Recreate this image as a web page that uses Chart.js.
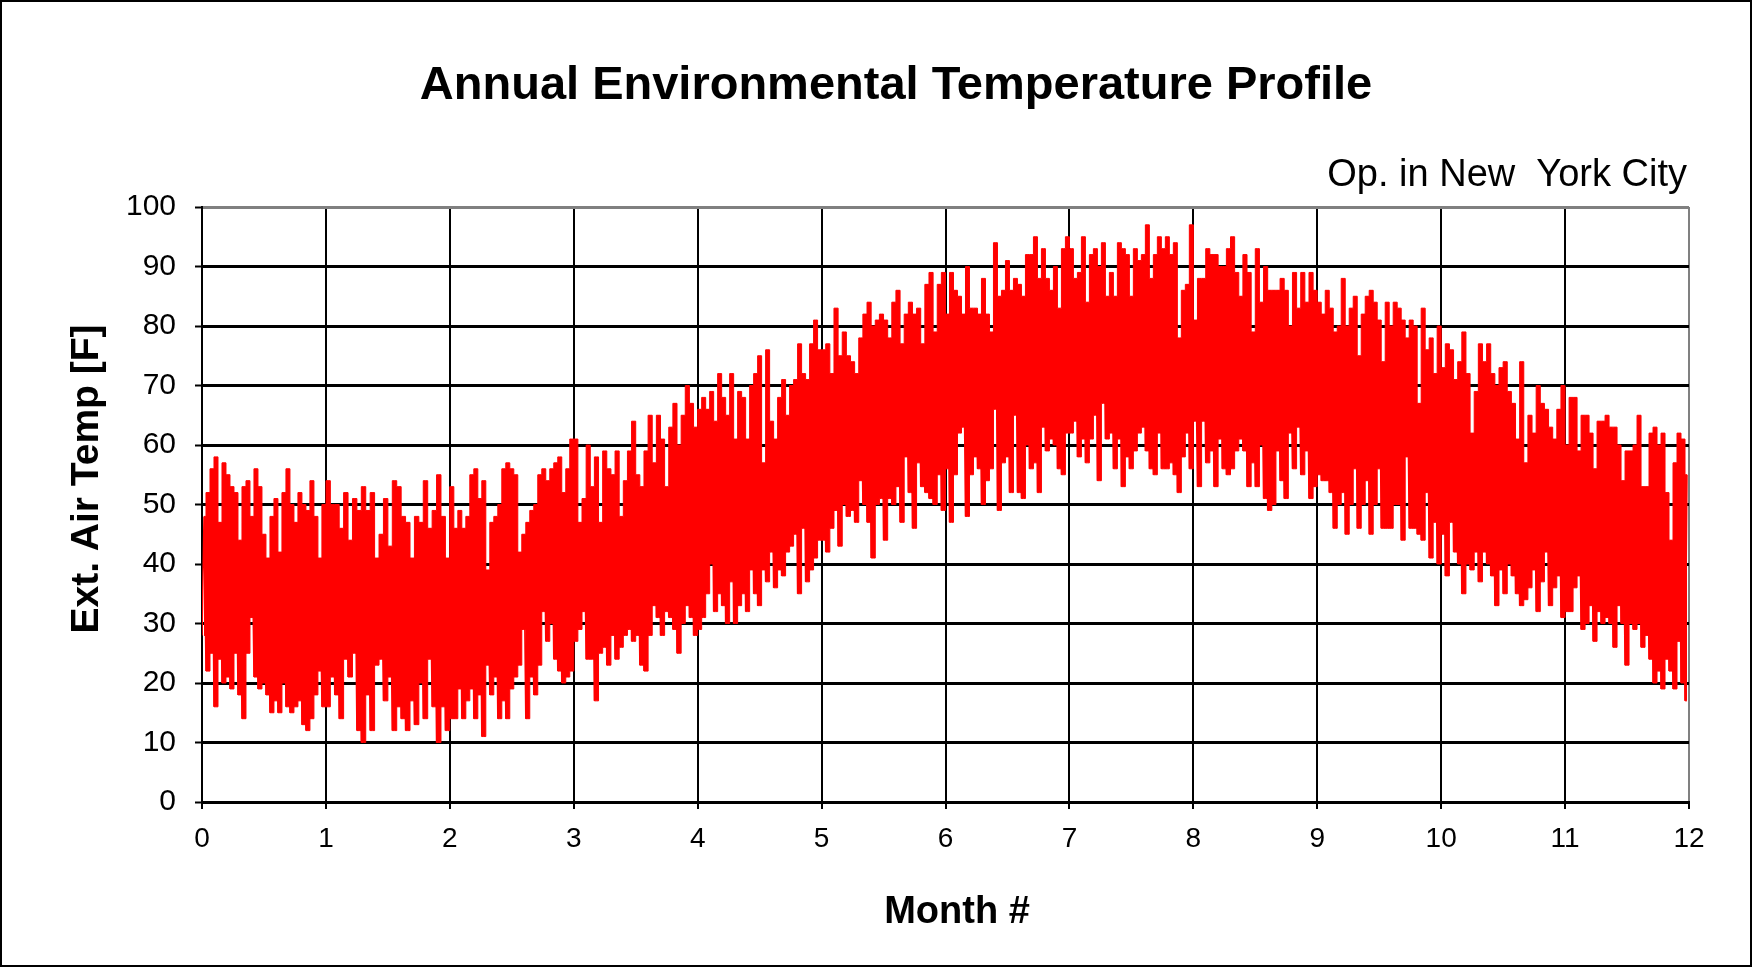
<!DOCTYPE html>
<html>
<head>
<meta charset="utf-8">
<script src="https://cdn.jsdelivr.net/npm/chart.js@4.4.1/dist/chart.umd.min.js"></script>
<style>
  html, body { margin: 0; padding: 0; background: #fff; }
  canvas { display: block; }
</style>
</head>
<body>
<canvas id="tempChart" width="1752" height="967"></canvas>
<script>
const monthTicks = [0, 1, 2, 3, 4, 5, 6, 7, 8, 9, 10, 11, 12];
const tempTicks = [0, 10, 20, 30, 40, 50, 60, 70, 80, 90, 100];

// daily highs / lows in F, one row per month
const dailyHigh = [
    [48,52,56,58,47,57,55,53,52,44,53,54,48,56,53,45,41,48,51,42,52,56,50,47,52,50,49,54,48,41,50],
    [54,50,50,46,52,44,51,49,53,49,52,41,45,51,43,54,53,48,47,41,48,47,54,46,49,55,48,41],
    [53,46,49,46,48,55,56,51,54,39,47,48,50,56,57,56,55,42,45,47,49,50,55,56,54,56,57,58,52,56,61],
    [61,47,51,60,53,58,47,59,56,55,59,48,54,59,64,55,53,59,65,57,65,61,53,63,67,60,65,70,67,63],
    [66,68,66,69,64,72,68,65,72,61,69,68,61,70,72,75,57,76,64,61,68,71,65,70,71,77,72,71,77,81,76],
    [76,77,72,83,75,79,75,74,72,78,82,84,80,81,82,81,78,84,86,77,82,84,82,83,77,87,89,79,87,89],
    [82,89,86,85,82,90,83,83,82,88,82,79,94,85,86,91,86,88,87,85,92,92,95,88,93,88,86,90,83,93,95],
    [93,88,89,95,84,92,93,90,94,85,89,85,94,93,92,85,93,91,92,97,88,92,95,93,95,92,94,78,86,87,97],
    [81,88,88,93,92,92,90,90,93,95,89,85,92,89,79,93,84,90,86,86,86,88,86,80,89,83,89,84,89,86],
    [84,82,86,83,79,80,88,80,83,85,75,82,85,86,84,81,74,84,80,84,83,81,78,81,80,67,83,76,78,72,80],
    [73,77,76,71,74,79,72,62,69,77,74,77,72,70,73,74,69,67,61,74,57,65,62,70,67,66,63,61,66,70],
    [60,68,68,59,65,65,62,56,64,64,65,63,63,60,54,59,59,60,65,53,53,62,63,60,62,52,44,57,62,61,55]
];

const dailyLow = [
    [28,22,25,16,24,20,21,19,25,18,14,25,31,21,19,20,18,15,17,15,20,16,15,16,17,13,12,14,18,22,16],
    [16,21,18,14,24,21,25,12,10,18,12,23,24,17,21,12,16,14,12,17,13,20,14,24,16,10,16,12],
    [14,14,19,14,17,19,14,18,11,23,18,21,14,17,14,19,21,23,29,14,21,18,23,32,27,30,24,22,20,21,22],
    [27,29,32,24,24,17,25,26,23,28,24,26,28,29,27,28,23,22,28,33,31,28,32,31,29,25,30,33,31,28],
    [29,31,35,40,32,35,33,30,37,30,33,35,32,39,35,33,39,37,42,36,39,38,42,43,45,35,46,37,39,41,44],
    [44,42,46,49,43,50,48,49,47,54,50,47,41,50,51,44,51,50,53,47,58,52,46,57,53,52,51,50,55,49],
    [56,47,55,62,63,48,55,58,56,50,54,56,66,49,57,58,52,65,52,51,60,56,57,52,63,59,61,60,56,55,62],
    [62,64,58,61,57,61,65,54,67,61,62,56,61,53,58,56,59,62,63,59,56,55,62,56,56,57,55,52,58,62,56],
    [64,53,64,57,59,53,61,56,55,56,59,61,59,53,57,53,60,51,49,50,59,54,51,62,56,63,55,59,51,53],
    [55,54,54,52,46,50,52,45,50,56,46,50,54,45,50,56,46,46,46,50,50,44,58,46,46,45,44,52,41,47,40],
    [45,38,47,42,40,35,40,39,42,37,42,40,38,33,39,35,40,38,35,33,34,36,39,32,37,42,33,36,38,31],
    [32,32,36,38,29,30,33,27,32,30,31,30,26,33,30,23,30,29,30,26,28,24,20,22,19,24,22,19,27,20,17]
];

// one point per day, days spread evenly over each month
function toPoints(rows) {
    const pts = [];
    rows.forEach((vals, m) => {
        const n = vals.length;
        vals.forEach((v, i) => pts.push({ x: m + (i + 0.5) / n, y: v }));
    });
    return pts;
}

// low then high for every day, for the thin spikes
function zigzag() {
    const pts = [];
    dailyHigh.forEach((highs, m) => {
        const lows = dailyLow[m];
        const n = highs.length;
        for (let i = 0; i < n; i++) {
            pts.push({ x: m + i / n, y: lows[i] });
            pts.push({ x: m + (i + 0.5) / n, y: highs[i] });
        }
    });
    return pts;
}

const FONT = '"Liberation Sans", Arial, sans-serif';
const RED = '#ff0000';

const chartText = {
    id: 'chartText',
    beforeDraw(chart) {
        const ctx = chart.ctx;
        ctx.save();
        ctx.fillStyle = '#fff';
        ctx.fillRect(0, 0, chart.width, chart.height);
        ctx.restore();
    },
    afterDraw(chart) {
        const ctx = chart.ctx;
        ctx.save();
        ctx.fillStyle = '#000';
        ctx.textBaseline = 'alphabetic';

        ctx.textAlign = 'center';
        ctx.font = 'bold 47px ' + FONT;
        ctx.fillText('Annual Environmental Temperature Profile', 896, 99);

        ctx.textAlign = 'right';
        ctx.font = '38px ' + FONT;
        ctx.fillText('Op. in New  York City', 1687, 186);

        ctx.textAlign = 'center';
        ctx.font = 'bold 38px ' + FONT;
        ctx.fillText('Month #', 957, 923);

        ctx.translate(98, 479);
        ctx.rotate(-Math.PI / 2);
        ctx.font = 'bold 39px ' + FONT;
        ctx.fillText('Ext. Air Temp [F]', 0, 0);
        ctx.restore();

        // outer frame
        ctx.save();
        ctx.strokeStyle = '#000';
        ctx.lineWidth = 2;
        ctx.strokeRect(1, 1, chart.width - 2, chart.height - 2);
        ctx.restore();
    }
};

document.addEventListener('DOMContentLoaded', function () {
    const ctx = document.getElementById('tempChart').getContext('2d');

    new Chart(ctx, {
        type: 'line',
        data: {
            datasets: [{
                label: 'Daily high',
                data: toPoints(dailyHigh),
                borderColor: RED,
                borderWidth: 1,
                stepped: 'middle',
                pointRadius: 0,
                fill: false
            }, {
                label: 'Daily low',
                data: toPoints(dailyLow),
                borderColor: RED,
                borderWidth: 1,
                backgroundColor: RED,
                stepped: 'middle',
                pointRadius: 0,
                fill: '-1'
            }, {
                label: 'Ext. Air Temp',
                data: zigzag(),
                borderColor: RED,
                borderWidth: 1.5,
                borderJoinStyle: 'bevel',
                pointRadius: 0,
                tension: 0,
                fill: false
            }]
        },
        options: {
            responsive: false,
            animation: false,
            devicePixelRatio: 1,
            events: [],
            layout: { padding: { left: 0, top: 207, right: 63, bottom: 0 } },
            plugins: {
                legend: { display: false },
                title: { display: false },
                tooltip: { enabled: false }
            },
            scales: {
                x: {
                    type: 'linear',
                    min: 0,
                    max: 12,
                    afterBuildTicks: (scale) => { scale.ticks = monthTicks.map(v => ({ value: v })); },
                    afterFit: (scale) => { scale.height = 165; },
                    ticks: {
                        color: '#000',
                        font: { family: FONT, size: 28 },
                        padding: 13,
                        autoSkip: false,
                        maxRotation: 0
                    },
                    grid: {
                        color: (c) => (c.tick && c.tick.value === 12 ? '#808080' : '#000'),
                        lineWidth: 2,
                        tickLength: 7,
                        tickColor: '#000',
                        tickWidth: 2
                    },
                    border: { color: '#000', width: 3 }
                },
                y: {
                    min: 0,
                    max: 100,
                    afterBuildTicks: (scale) => { scale.ticks = tempTicks.map(v => ({ value: v })); },
                    afterFit: (scale) => { scale.width = 202; },
                    ticks: {
                        color: '#000',
                        font: { family: FONT, size: 30 },
                        padding: 19
                    },
                    grid: {
                        color: (c) => (c.tick && c.tick.value === 100 ? '#808080' : '#000'),
                        lineWidth: 3,
                        tickLength: 7,
                        tickColor: '#000',
                        tickWidth: 2
                    },
                    border: { color: '#000', width: 2 }
                }
            }
        },
        plugins: [chartText]
    });
});
</script>
</body>
</html>
